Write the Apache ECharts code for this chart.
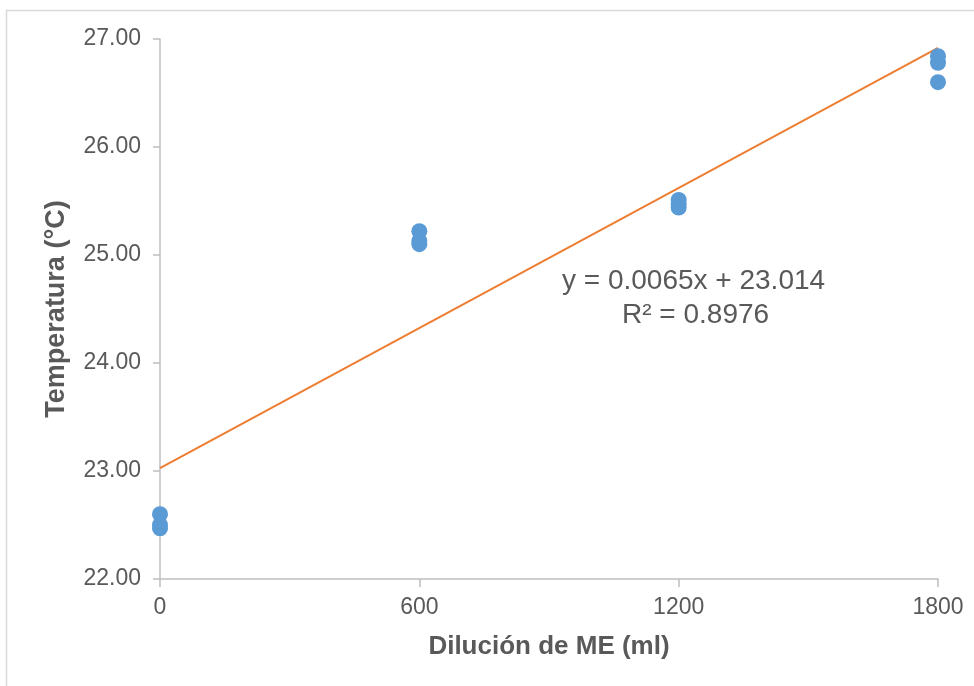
<!DOCTYPE html>
<html>
<head>
<meta charset="utf-8">
<script src="https://cdn.jsdelivr.net/npm/echarts@6/dist/echarts.min.js"></script>
<style>
  html, body { margin: 0; padding: 0; background: #fff; }
  #chart { width: 974px; height: 686px; }
</style>
</head>
<body>
<div id="chart"></div>
<script>
// Dilution volumes (ml) and the measured temperatures (°C)
const dilucion = [0, 0, 0, 600, 600, 600, 1200, 1200, 1200, 1800, 1800, 1800];
const temperatura = [22.60, 22.50, 22.47, 25.22, 25.13, 25.10, 25.51, 25.47, 25.44, 26.84, 26.78, 26.60];
const xTicks = [0, 600, 1200, 1800];
const yTicks = [22, 23, 24, 25, 26, 27];
const ecuacion = 'y = 0.0065x + 23.014';
const r2 = 'R² = 0.8976';

// Least-squares linear trendline through the measurements
function fit(xs, ys) {
  const n = xs.length;
  const mx = xs.reduce((a, b) => a + b, 0) / n;
  const my = ys.reduce((a, b) => a + b, 0) / n;
  let sxy = 0, sxx = 0;
  for (let i = 0; i < n; i++) {
    sxy += (xs[i] - mx) * (ys[i] - my);
    sxx += (xs[i] - mx) * (xs[i] - mx);
  }
  const b = sxy / sxx;
  return { a: my - b * mx, b };
}
const lr = fit(dilucion, temperatura);
const xMin = xTicks[0], xMax = xTicks[xTicks.length - 1];
const tendencia = [[xMin, lr.a + lr.b * xMin], [xMax, lr.a + lr.b * xMax]];

const puntos = dilucion.map((x, i) => [x, temperatura[i]]);
const font = 'Liberation Sans, Arial, sans-serif';
const textColor = '#595959';

const chart = echarts.init(document.getElementById('chart'));
chart.setOption({
  animation: false,
  backgroundColor: '#fff',
  grid: { left: 160, right: 36, top: 39, bottom: 107, containLabel: false },
  graphic: [
    { type: 'rect', shape: { x: 6.5, y: 10.5, width: 1100, height: 1100 },
      style: { fill: 'none', stroke: '#d9d9d9', lineWidth: 1.5 }, silent: true },
    { type: 'text', left: 562, top: 267, z: 10,
      style: { text: ecuacion, font: '28px ' + font, fill: textColor } },
    { type: 'text', left: 622, top: 301, z: 10,
      style: { text: r2, font: '28px ' + font, fill: textColor } }
  ],
  xAxis: {
    type: 'value',
    min: xMin, max: xMax, interval: 600,
    name: 'Dilución de ME (ml)',
    nameLocation: 'middle', nameGap: 55,
    nameTextStyle: { fontFamily: font, fontSize: 26, fontWeight: 'bold', color: textColor },
    axisLine: { show: true, lineStyle: { color: '#bfbfbf', width: 1.5 } },
    axisTick: { show: true, length: 8, inside: false, lineStyle: { color: '#bfbfbf', width: 1.5 } },
    axisLabel: { fontFamily: font, fontSize: 23, color: textColor, margin: 17,
      formatter: v => String(v) },
    splitLine: { show: false }
  },
  yAxis: {
    type: 'value',
    min: yTicks[0], max: yTicks[yTicks.length - 1], interval: 1,
    name: 'Temperatura (°C)',
    nameLocation: 'middle', nameGap: 90, nameRotate: 90,
    nameTextStyle: { fontFamily: font, fontSize: 27, fontWeight: 'bold', color: textColor },
    axisLine: { show: true, lineStyle: { color: '#bfbfbf', width: 1.5 } },
    axisTick: { show: true, length: 7, inside: false, lineStyle: { color: '#bfbfbf', width: 1.5 } },
    axisLabel: { fontFamily: font, fontSize: 23, color: textColor, margin: 19,
      formatter: v => v.toFixed(2) },
    splitLine: { show: false }
  },
  series: [
    {
      type: 'line',
      data: tendencia,
      showSymbol: false,
      lineStyle: { color: '#ed7d31', width: 2 },
      z: 2
    },
    {
      type: 'scatter',
      data: puntos,
      symbol: 'circle',
      symbolSize: 16,
      itemStyle: { color: '#5b9bd5', opacity: 1 },
      z: 3
    }
  ]
});
</script>
</body>
</html>
